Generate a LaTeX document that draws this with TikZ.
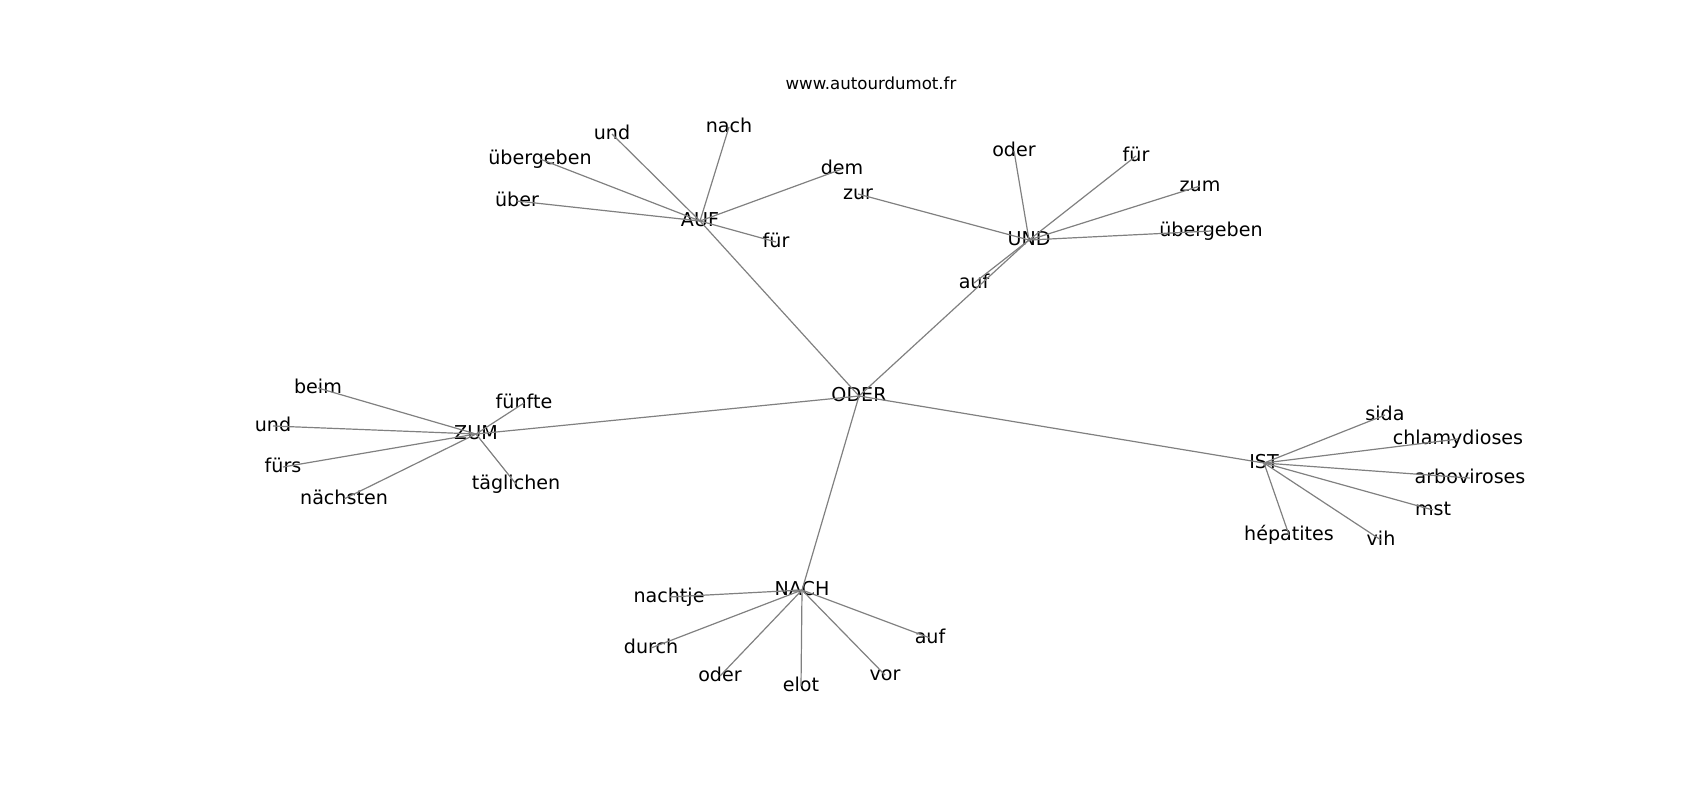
\documentclass[tikz,border=0pt]{standalone}
\usepackage{fontspec}
\setmainfont{DejaVu Sans}

\begin{document}
\begin{tikzpicture}[x=0.5pt,y=-0.5pt,
      wort/.style={inner sep=0pt, font=\fontsize{9.55}{11}\selectfont, text height=0.76em, text depth=0.24em},
      kante/.style={draw=black!50, line width=0.6pt}]
\useasboundingbox (0,0) rectangle (1700,800);

\node[font=\fontsize{8.3}{10}\selectfont] (titel) at (871,83) {www.autourdumot.fr};

\node[wort] (oder) at (859,396) {ODER};
\node[wort] (auf) at (700,221) {AUF};
\node[wort] (und) at (1029,240) {UND};
\node[wort] (zum) at (476,434) {ZUM};
\node[wort] (ist) at (1264,463) {IST};
\node[wort] (nach) at (802,590) {NACH};

% AUF
\node[wort] (auf1) at (612,134) {und};
\node[wort] (auf2) at (729,127) {nach};
\node[wort] (auf3) at (540,159) {übergeben};
\node[wort] (auf4) at (517,201) {über};
\node[wort] (auf5) at (842,169) {dem};
\node[wort] (auf6) at (776,242) {für};
% UND
\node[wort] (und1) at (1014,151) {oder};
\node[wort] (und2) at (1136,156) {für};
\node[wort] (und3) at (1200,186) {zum};
\node[wort] (und4) at (1211,231) {übergeben};
\node[wort] (und5) at (858,194) {zur};
\node[wort] (und6) at (974,283) {auf};
% ZUM
\node[wort] (zum1) at (318,388) {beim};
\node[wort] (zum2) at (273,426) {und};
\node[wort] (zum3) at (283,467) {fürs};
\node[wort] (zum4) at (344,499) {nächsten};
\node[wort] (zum5) at (524,403) {fünfte};
\node[wort] (zum6) at (516,484) {täglichen};
% IST
\node[wort] (ist1) at (1385,415) {sida};
\node[wort] (ist2) at (1458,439) {chlamydioses};
\node[wort] (ist3) at (1470,478) {arboviroses};
\node[wort] (ist4) at (1433,510) {mst};
\node[wort] (ist5) at (1381,540) {vih};
\node[wort] (ist6) at (1289,535) {hépatites};
% NACH
\node[wort] (nach1) at (669,597) {nachtje};
\node[wort] (nach2) at (651,648) {durch};
\node[wort] (nach3) at (720,676) {oder};
\node[wort] (nach4) at (801,686) {elot};
\node[wort] (nach5) at (885,675) {vor};
\node[wort] (nach6) at (930,638) {auf};

\draw[kante] (oder.center) -- (auf.center);
\draw[kante] (oder.center) -- (und.center);
\draw[kante] (oder.center) -- (zum.center);
\draw[kante] (oder.center) -- (ist.center);
\draw[kante] (oder.center) -- (nach.center);

\draw[kante] (auf.center) -- (auf1.center);
\draw[kante] (auf.center) -- (auf2.center);
\draw[kante] (auf.center) -- (auf3.center);
\draw[kante] (auf.center) -- (auf4.center);
\draw[kante] (auf.center) -- (auf5.center);
\draw[kante] (auf.center) -- (auf6.center);

\draw[kante] (und.center) -- (und1.center);
\draw[kante] (und.center) -- (und2.center);
\draw[kante] (und.center) -- (und3.center);
\draw[kante] (und.center) -- (und4.center);
\draw[kante] (und.center) -- (und5.center);
\draw[kante] (und.center) -- (und6.center);

\draw[kante] (zum.center) -- (zum1.center);
\draw[kante] (zum.center) -- (zum2.center);
\draw[kante] (zum.center) -- (zum3.center);
\draw[kante] (zum.center) -- (zum4.center);
\draw[kante] (zum.center) -- (zum5.center);
\draw[kante] (zum.center) -- (zum6.center);

\draw[kante] (ist.center) -- (ist1.center);
\draw[kante] (ist.center) -- (ist2.center);
\draw[kante] (ist.center) -- (ist3.center);
\draw[kante] (ist.center) -- (ist4.center);
\draw[kante] (ist.center) -- (ist5.center);
\draw[kante] (ist.center) -- (ist6.center);

\draw[kante] (nach.center) -- (nach1.center);
\draw[kante] (nach.center) -- (nach2.center);
\draw[kante] (nach.center) -- (nach3.center);
\draw[kante] (nach.center) -- (nach4.center);
\draw[kante] (nach.center) -- (nach5.center);
\draw[kante] (nach.center) -- (nach6.center);

\end{tikzpicture}
\end{document}
